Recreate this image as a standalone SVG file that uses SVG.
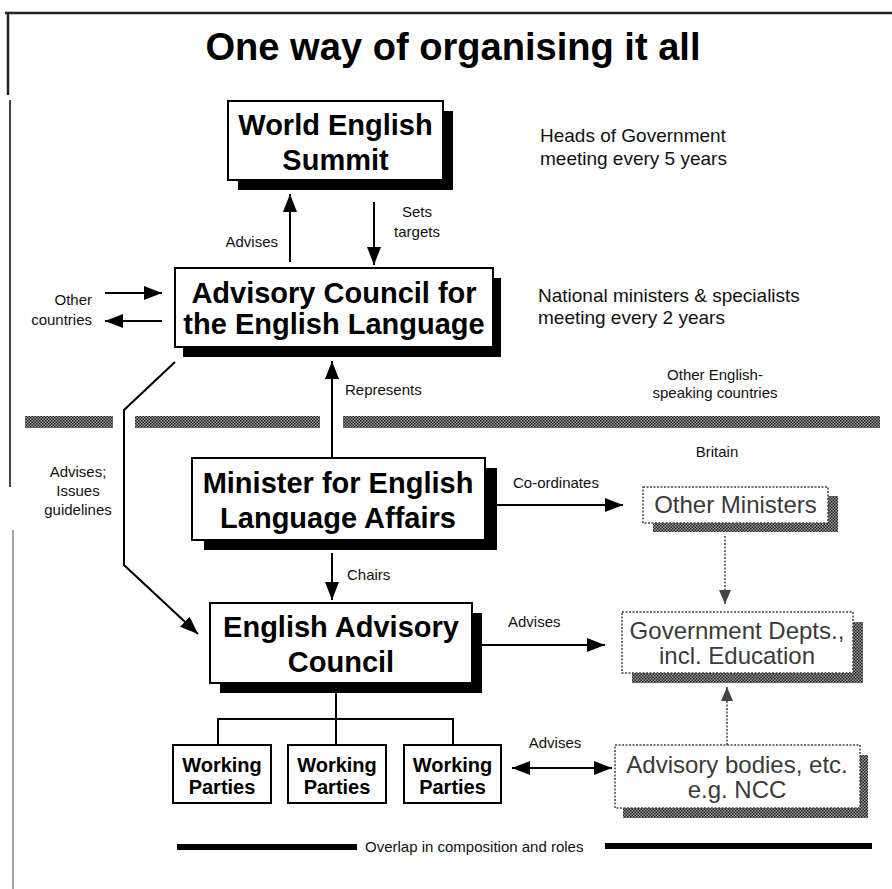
<svg xmlns="http://www.w3.org/2000/svg" width="892" height="889" viewBox="0 0 892 889">
<defs>
<pattern id="hatch" width="3" height="3" patternUnits="userSpaceOnUse">
<rect width="3" height="3" fill="#9a9a9a"/>
<rect x="0" y="0" width="1.5" height="1.5" fill="#222"/>
<rect x="1.5" y="1.5" width="1.5" height="1.5" fill="#222"/>
</pattern>
<marker id="ah" markerUnits="userSpaceOnUse" markerWidth="18" markerHeight="14" refX="18" refY="7" orient="auto">
<path d="M0,0 L18,7 L0,14 z" fill="#000"/>
</marker>
<marker id="ahs" markerUnits="userSpaceOnUse" markerWidth="18" markerHeight="14" refX="0" refY="7" orient="auto">
<path d="M18,0 L0,7 L18,14 z" fill="#000"/>
</marker>
<marker id="ahg" markerUnits="userSpaceOnUse" markerWidth="14" markerHeight="12" refX="14" refY="6" orient="auto">
<path d="M0,0 L14,6 L0,12 z" fill="#444"/>
</marker>
</defs>
<style>
.big{font-family:"Liberation Sans",Arial,sans-serif;font-weight:bold;font-size:29px;fill:#000;text-anchor:middle}
.wp{font-family:"Liberation Sans",Arial,sans-serif;font-weight:bold;font-size:20px;fill:#000;text-anchor:middle}
.dot{font-family:"Liberation Sans",Arial,sans-serif;font-size:24px;fill:#3a3a3a;text-anchor:middle}
.sm{font-family:"Liberation Sans",Arial,sans-serif;font-size:15px;fill:#111}
.desc{font-family:"Liberation Sans",Arial,sans-serif;font-size:19px;fill:#111}
.mid{text-anchor:middle}
.end{text-anchor:end}
.box{fill:#fff;stroke:#000;stroke-width:2}
.shadow{fill:#000}
.dbox{fill:#fff;stroke:#444;stroke-width:1.5;stroke-dasharray:2 1.5}
.dshadow{fill:url(#hatch)}
.conn{fill:none;stroke:#000;stroke-width:2}
.gconn{fill:none;stroke:#444;stroke-width:1.5;stroke-dasharray:2 1.5}
</style>
<rect width="892" height="889" fill="#fff"/>
<g id="frame">
<line x1="5" y1="13" x2="892" y2="13" stroke="#222" stroke-width="2.5"/>
<line x1="8" y1="12" x2="8" y2="95" stroke="#222" stroke-width="2.5"/>
<line x1="10" y1="100" x2="10" y2="487" stroke="#444" stroke-width="2"/>
<line x1="13" y1="530" x2="13" y2="889" stroke="#888" stroke-width="1.5"/>
</g>
<g id="title">
<text x="453" y="60" font-family="Liberation Sans, Arial, sans-serif" font-weight="bold" font-size="39" text-anchor="middle" textLength="495" lengthAdjust="spacingAndGlyphs">One way of organising it all</text>
</g>
<g id="dividers">
<rect x="25" y="416" width="88" height="12" class="dshadow"/>
<rect x="135" y="416" width="185" height="12" class="dshadow"/>
<rect x="343" y="416" width="537" height="12" class="dshadow"/>
</g>
<g id="notes">
<text class="desc" x="540" y="142">Heads of Government</text>
<text class="desc" x="540" y="165">meeting every 5 years</text>
<text class="desc" x="538" y="302">National ministers &amp; specialists</text>
<text class="desc" x="538" y="324">meeting every 2 years</text>
<text class="sm mid" x="715" y="380" font-size="16">Other English-</text>
<text class="sm mid" x="715" y="398" font-size="16">speaking countries</text>
<text class="sm mid" x="717" y="457" font-size="16">Britain</text>
<text class="sm end" x="92" y="305">Other</text>
<text class="sm end" x="92" y="325">countries</text>
</g>
<g id="connectors">
<line class="conn" x1="290" y1="262" x2="290" y2="194" marker-end="url(#ah)"/>
<line class="conn" x1="374" y1="202" x2="374" y2="265" marker-end="url(#ah)"/>
<line class="conn" x1="105" y1="293" x2="162" y2="293" marker-end="url(#ah)"/>
<line class="conn" x1="162" y1="321" x2="105" y2="321" marker-end="url(#ah)"/>
<line class="conn" x1="332" y1="457" x2="332" y2="361" marker-end="url(#ah)"/>
<line class="conn" x1="332" y1="553" x2="332" y2="600" marker-end="url(#ah)"/>
<line class="conn" x1="497" y1="505" x2="623" y2="505" marker-end="url(#ah)"/>
<line class="conn" x1="482" y1="645" x2="605" y2="645" marker-end="url(#ah)"/>
<line class="gconn" x1="725" y1="536" x2="725" y2="604" marker-end="url(#ahg)"/>
<line class="gconn" x1="727" y1="745" x2="727" y2="687" marker-end="url(#ahg)"/>
<line class="conn" x1="512" y1="768" x2="612" y2="768" marker-start="url(#ahs)" marker-end="url(#ah)"/>
<path class="conn" d="M175,362 L124,410 L124,565 L198,634" marker-end="url(#ah)"/>
<path class="conn" stroke-width="1.5" d="M336,693 V745 M218,745 V719 H453 V745"/>
<text class="sm end" x="278" y="247">Advises</text>
<text class="sm mid" x="417" y="217">Sets</text>
<text class="sm mid" x="417" y="237">targets</text>
<text class="sm" x="345" y="395">Represents</text>
<text class="sm" x="347" y="580">Chairs</text>
<text class="sm" x="513" y="488">Co-ordinates</text>
<text class="sm" x="508" y="627">Advises</text>
<text class="sm mid" x="555" y="748">Advises</text>
<text class="sm mid" x="78" y="477">Advises;</text>
<text class="sm mid" x="78" y="496">Issues</text>
<text class="sm mid" x="78" y="515">guidelines</text>
</g>
<g id="world-english-summit">
<rect class="shadow" x="238" y="111" width="215" height="79"/>
<rect class="box" x="228" y="101" width="215" height="79"/>
<text class="big" x="335.5" y="135">World English</text>
<text class="big" x="335.5" y="170">Summit</text>
</g>
<g id="advisory-council">
<rect class="shadow" x="183" y="278" width="318" height="79"/>
<rect class="box" x="175" y="268" width="318" height="79"/>
<text class="big" x="334" y="303">Advisory Council for</text>
<text class="big" x="334" y="334">the English Language</text>
</g>
<g id="minister">
<rect class="shadow" x="204" y="468" width="293" height="82"/>
<rect class="box" x="192" y="458" width="293" height="82"/>
<text class="big" x="338" y="493">Minister for English</text>
<text class="big" x="338" y="528">Language Affairs</text>
</g>
<g id="english-advisory-council">
<rect class="shadow" x="220" y="613" width="262" height="80"/>
<rect class="box" x="210" y="603" width="262" height="80"/>
<text class="big" x="341" y="637">English Advisory</text>
<text class="big" x="341" y="672">Council</text>
</g>
<g id="working-parties-1">
<rect class="box" stroke-width="1.5" x="173" y="745" width="98" height="58"/>
<text class="wp" x="222" y="772">Working</text>
<text class="wp" x="222" y="794">Parties</text>
</g>
<g id="working-parties-2">
<rect class="box" stroke-width="1.5" x="288" y="745" width="98" height="58"/>
<text class="wp" x="337" y="772">Working</text>
<text class="wp" x="337" y="794">Parties</text>
</g>
<g id="working-parties-3">
<rect class="box" stroke-width="1.5" x="404" y="745" width="97" height="58"/>
<text class="wp" x="452.5" y="772">Working</text>
<text class="wp" x="452.5" y="794">Parties</text>
</g>
<g id="other-ministers">
<rect class="dshadow" x="653" y="496" width="185" height="36"/>
<rect class="dbox" x="643" y="487" width="185" height="36"/>
<text class="dot" x="735.5" y="513">Other Ministers</text>
</g>
<g id="government-depts">
<rect class="dshadow" x="632" y="622" width="231" height="61"/>
<rect class="dbox" x="622" y="612" width="231" height="61"/>
<text class="dot" x="737" y="639">Government Depts.,</text>
<text class="dot" x="737" y="664">incl. Education</text>
</g>
<g id="advisory-bodies">
<rect class="dshadow" x="623" y="755" width="245" height="63"/>
<rect class="dbox" x="615" y="745" width="245" height="63"/>
<text class="dot" x="737" y="773">Advisory bodies, etc.</text>
<text class="dot" x="737" y="798">e.g. NCC</text>
</g>
<g id="legend">
<rect x="177" y="844" width="180" height="6" fill="#000"/>
<text class="sm" x="365" y="852" font-size="16">Overlap in composition and roles</text>
<rect x="605" y="843" width="267" height="6" fill="#000"/>
</g>
</svg>
